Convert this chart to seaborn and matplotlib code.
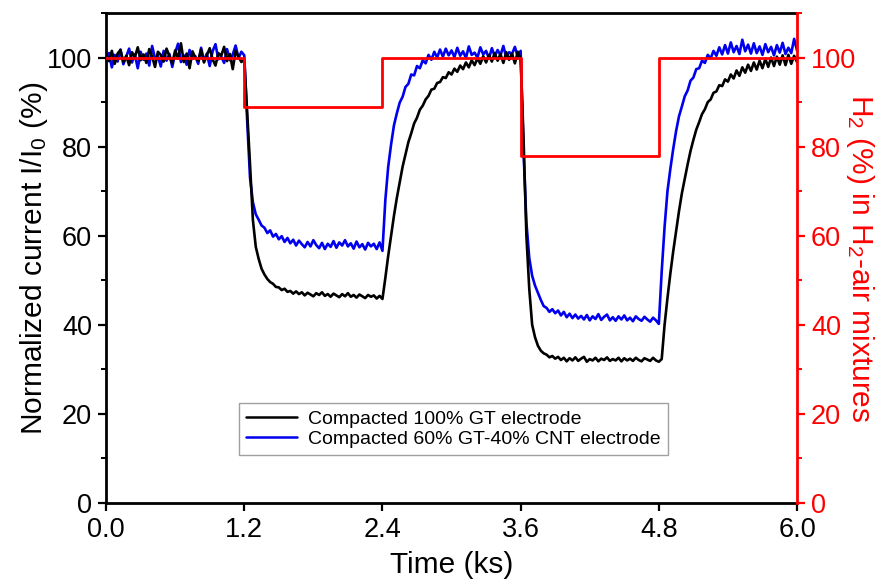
import numpy as np
import pandas as pd
import matplotlib
matplotlib.use("Agg")
import matplotlib.pyplot as plt
import seaborn as sns
from matplotlib.ticker import MultipleLocator, FormatStrFormatter

# ---- data -------------------------------------------------------------
# normalized current (%) sampled every 0.025 ks from 0 to 6 ks
current_gt = [
    100.8, 99.2, 101.5, 98.6, 100.9, 101.7, 99.0, 100.4, 98.3, 101.2,
    100.1, 102.3, 99.4, 100.7, 98.8, 101.9, 100.2, 97.9, 101.3, 100.6,
    99.1, 102.0, 100.3, 98.7, 101.6, 99.8, 103.2, 99.0, 100.9, 97.6,
    101.4, 100.0, 99.3, 101.8, 98.9, 100.5, 102.1, 99.6, 98.2, 101.0,
    100.4, 102.4, 99.2, 100.8, 97.4, 101.5, 100.2, 99.0,
    99.6, 88.0, 76.0, 63.5, 57.5, 54.8, 52.6, 51.3, 50.3, 49.6,
    49.2, 48.5, 48.4, 47.8, 48.1, 47.4, 47.6, 47.0, 47.5, 46.9,
    47.3, 46.6, 47.2, 46.8, 46.4, 47.1, 46.7, 47.3, 46.5, 46.9,
    46.3, 47.0, 46.6, 46.2, 46.9, 46.4, 47.1, 46.3, 46.7, 46.1,
    46.8, 46.4, 46.0, 46.7, 46.3, 46.6, 45.9, 46.5, 45.8,
    50.5, 55.5, 60.0, 64.5, 68.5, 72.0, 75.5, 78.3, 81.0, 83.0,
    85.2, 86.5, 88.3, 89.2, 90.6, 91.4, 92.8, 93.0, 94.3, 94.5,
    95.6, 95.4, 96.7, 96.2, 97.5, 96.8, 98.2, 97.4, 98.9, 97.8,
    99.4, 98.3, 99.8, 98.6, 100.3, 98.9, 100.6, 99.1, 101.0, 99.3,
    100.8, 98.8, 101.2, 99.5, 100.9, 98.7, 101.3, 99.6,
    82.0, 60.0, 48.0, 40.0, 37.2, 35.3, 34.2, 33.6, 33.3, 32.7,
    33.0, 32.4, 32.8, 32.1, 32.6, 31.8, 32.5, 32.0, 32.7, 31.9,
    32.4, 32.8, 31.7, 32.3, 32.0, 32.6, 31.8, 32.4, 32.1, 32.7,
    31.9, 32.3, 32.0, 32.6, 31.8, 32.5, 32.0, 32.4, 31.9, 32.6,
    32.1, 31.8, 32.5, 32.2, 31.9, 32.6, 32.0, 31.7, 32.3,
    40.0, 46.0, 51.5, 56.5, 61.0, 65.5, 69.5, 72.8, 76.0, 79.0,
    81.5, 83.8, 85.5, 87.3, 88.4, 90.0, 90.6, 92.1, 92.4, 93.8,
    93.6, 95.1, 94.6, 96.2, 95.3, 97.1, 95.9, 97.8, 96.6, 98.4,
    97.0, 98.9, 97.3, 99.3, 97.6, 99.7, 97.9, 100.0, 98.1, 100.2,
    98.4, 100.5, 98.3, 100.6, 98.6, 100.4, 99.0,
]

current_gt_cnt = [
    99.4, 101.0, 97.8, 100.6, 99.1, 101.8, 98.5, 100.2, 102.0, 98.9,
    100.7, 97.6, 101.3, 99.5, 100.9, 98.2, 102.6, 99.8, 100.4, 98.0,
    101.5, 99.3, 100.8, 97.9, 101.1, 103.1, 99.0, 100.5, 98.4, 101.7,
    99.7, 100.3, 98.6, 102.2, 99.2, 100.9, 98.1, 101.4, 103.0, 99.6,
    100.2, 98.8, 101.9, 99.4, 100.7, 102.7, 99.9, 101.3,
    100.5, 86.0, 73.0, 67.5, 64.8, 63.6, 62.3, 61.8, 60.6, 61.2,
    59.8, 60.4, 59.2, 59.9, 58.6, 59.5, 58.3, 59.1, 57.8, 58.9,
    58.1, 57.4, 58.6, 57.6, 59.0, 57.9, 57.2, 58.4, 57.0, 58.2,
    57.5, 58.8, 57.3, 58.5, 57.8, 59.0, 57.6, 58.3, 57.1, 58.7,
    57.4, 58.1, 56.9, 58.4, 57.6, 58.2, 57.0, 58.5, 56.6,
    68.0, 75.5, 80.5, 84.8, 87.5, 89.9, 91.2, 93.4, 94.1, 96.2,
    96.0, 98.1, 97.6, 99.4, 98.7, 100.6, 99.5, 101.3, 100.0, 101.8,
    100.2, 102.0, 100.5, 101.6, 100.1, 102.2, 100.4, 101.4, 99.9, 102.5,
    100.6, 101.1, 100.0, 102.3, 100.7, 101.5, 99.8, 102.1, 100.3, 101.7,
    100.5, 102.6, 100.0, 101.2, 100.8, 102.4, 100.2, 101.5,
    79.0, 63.0, 55.0, 51.0, 48.8, 47.2, 45.6, 44.2, 43.8, 42.9,
    43.5, 42.6, 43.2, 42.1, 42.9, 41.7, 42.5, 41.5, 42.3, 41.4,
    42.0, 41.2, 42.2, 41.0, 41.9, 41.3, 42.4, 41.1, 41.8, 42.3,
    41.0, 41.7, 40.9, 41.9, 41.2, 42.1, 41.0, 41.6, 40.8, 41.9,
    41.3, 40.9, 41.8, 41.2, 40.7, 41.6, 41.0, 40.2, 52.0,
    62.0, 70.0, 75.0, 79.5, 83.5, 86.8, 89.0, 91.3, 92.6, 94.8,
    95.5, 97.4, 97.6, 99.3, 98.8, 100.6, 99.8, 101.5, 100.4, 102.3,
    100.7, 102.8, 100.9, 103.4, 101.2, 102.6, 100.8, 104.0, 101.4, 102.9,
    100.9, 103.2, 101.0, 102.5, 100.6, 103.0, 101.2, 102.4, 100.5, 102.8,
    101.1, 103.3, 100.8, 102.2, 101.0, 104.2, 101.6,
]

time_ks = np.linspace(0.0, 6.0, len(current_gt))

# H2 content of the gas feed (step changes)
step_time_ks = [0.0, 1.2, 2.4, 3.6, 4.8, 6.0]
h2_percent = [100, 89, 100, 78, 100, 100]

label_gt = "Compacted 100% GT electrode"
label_cnt = "Compacted 60% GT-40% CNT electrode"

df = pd.DataFrame({"t": time_ks, "gt": current_gt, "cnt": current_gt_cnt})
df_h2 = pd.DataFrame({"t": step_time_ks, "h2": h2_percent})

# ---- style ------------------------------------------------------------
sns.set_style("ticks")
plt.rcParams["font.family"] = ["Liberation Sans", "DejaVu Sans"]
plt.rcParams["mathtext.default"] = "regular"
for key in ["text.color", "axes.labelcolor", "xtick.color", "ytick.color",
            "xtick.labelcolor", "ytick.labelcolor"]:
    plt.rcParams[key] = "black"

fig = plt.figure(figsize=(8.84, 5.81), dpi=100)
ax = fig.add_axes([0.12, 0.1343, 0.7816, 0.8433])

sns.lineplot(data=df, x="t", y="gt", ax=ax, color="black", lw=1.9,
             label=label_gt, zorder=3)
sns.lineplot(data=df, x="t", y="cnt", ax=ax, color="#0000ee", lw=1.9,
             label=label_cnt, zorder=2)

ax.set_xlim(0, 6.0)
ax.set_ylim(0, 110)
ax.xaxis.set_major_locator(MultipleLocator(1.2))
ax.xaxis.set_major_formatter(FormatStrFormatter("%.1f"))
ax.yaxis.set_major_locator(MultipleLocator(20))
ax.yaxis.set_minor_locator(MultipleLocator(10))
ax.tick_params(axis="both", which="major", labelsize=19.5, length=6,
               width=1.6, color="black", labelcolor="black", pad=4)
ax.tick_params(axis="y", which="minor", length=3.5, width=1.4, color="black")
ax.tick_params(top=False, right=False)
for side in ["left", "bottom", "top"]:
    ax.spines[side].set_linewidth(2.0)
    ax.spines[side].set_color("black")
ax.spines["right"].set_visible(False)

ax.set_xlabel("Time (ks)", fontsize=21.5, labelpad=6, color="black")
ax.set_ylabel("Normalized current I/I$_0$ (%)", fontsize=21.5, labelpad=-2,
              color="black")

leg = ax.legend(loc="center", bbox_to_anchor=(0.503, 0.151), fontsize=14,
                frameon=True, fancybox=False, edgecolor="#888888",
                handlelength=2.6, handletextpad=0.6, borderpad=0.35,
                labelspacing=0.15)
leg.get_frame().set_linewidth(1.0)
for line in leg.get_lines():
    line.set_linewidth(1.8)
for txt in leg.get_texts():
    txt.set_color("black")

# ---- H2 step on the right axis ----------------------------------------
red = "#ff0000"
ax2 = ax.twinx()
sns.lineplot(data=df_h2, x="t", y="h2", ax=ax2, color=red, lw=2.0,
             drawstyle="steps-post", legend=False)
ax2.set_ylim(0, 110)
ax2.set_xlim(0, 6.0)
ax2.yaxis.set_major_locator(MultipleLocator(20))
ax2.yaxis.set_minor_locator(MultipleLocator(10))
ax2.tick_params(axis="y", which="major", labelsize=19.5, length=6, width=1.6,
                colors=red, pad=4)
ax2.tick_params(axis="y", which="minor", length=3.5, width=1.4, colors=red)
for side in ["left", "bottom", "top"]:
    ax2.spines[side].set_visible(False)
ax2.spines["right"].set_linewidth(2.0)
ax2.spines["right"].set_color(red)
ax2.set_ylabel("H$_2$ (%) in H$_2$-air mixtures", fontsize=21.5, color=red,
               rotation=270, labelpad=14)

fig.savefig("out.png", dpi=100)
